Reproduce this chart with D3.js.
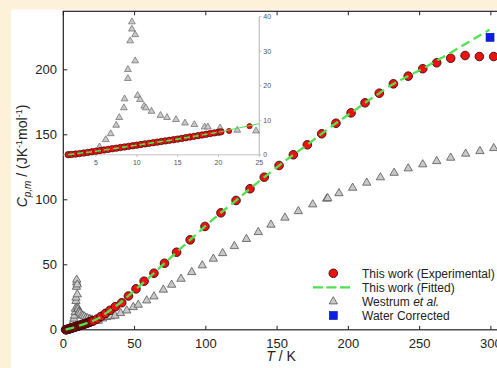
<!DOCTYPE html>
<html>
<head>
<meta charset="utf-8">
<script src="https://cdn.jsdelivr.net/npm/d3@7"></script>
<style>
body { margin: 0; background: #fdf1d9; }
svg { display: block; }
text { font-family: "Liberation Sans", Arial, sans-serif; }
</style>
</head>
<body>
<div id="chart"></div>
<script>
// experimental points (T / K, Cp,m / J K-1 mol-1)
const expT = [1.6, 2, 2.5, 3, 3.5, 4, 4.5, 5, 5.5, 6, 6.5, 7, 7.5, 8, 8.5, 9, 9.5, 10, 10.5, 11,
    11.5, 12, 12.5, 13, 13.5, 14, 14.5, 15, 15.5, 16, 16.5, 17, 17.5, 18, 18.5, 19, 19.5, 20, 20.3,
    21.3, 23.8, 26.5, 29.5, 32.8, 36.5, 41, 45.7, 51, 56.7, 63.6, 71, 79.5, 89, 99.4, 110.6, 121.2,
    131, 141, 151.4, 161.4, 171.2, 181.3, 191.3, 201.9, 211.7, 221.7, 231.6, 242, 252.2, 262,
    271.8, 281.9, 291.9, 302]
const expC = [0.05, 0.1, 0.22, 0.35, 0.52, 0.7, 0.88, 1.05, 1.22, 1.4, 1.57, 1.75, 1.92, 2.1, 2.27,
    2.45, 2.62, 2.8, 2.97, 3.15, 3.32, 3.5, 3.67, 3.85, 4.02, 4.2, 4.37, 4.55, 4.75, 4.95, 5.15, 5.35,
    5.55, 5.75, 5.95, 6.15, 6.35, 6.55, 6.65,
    6.9, 8.3, 10.3, 12.6, 15, 17.8, 20.8, 26, 31.5, 37.4, 43.5, 51.2, 59.7, 69.2, 79.5, 90, 99.5,
    108.5, 117.4, 126.4, 134.6, 142.3, 150.8, 158.9, 166.9, 174.6, 182, 189.2, 195.1, 200.8, 205.4,
    208.9, 211, 210.2, 210.2]

// fitted curve
const fitT = [1.6, 5, 10, 15, 20, 25, 30, 35, 40, 50, 60, 70, 80, 90, 100, 110, 120, 130, 140, 150,
    160, 170, 180, 190, 200, 210, 220, 230, 240, 250, 260, 270, 280, 290, 299]
const fitC = [0.05, 1.05, 2.8, 4.55, 6.55, 9, 12.8, 16.8, 20.8, 30.3, 40, 50.2, 60.2, 70.2, 80.1,
    89.5, 98.4, 107.6, 116.5, 125.2, 133.5, 141.4, 149.7, 157.9, 165.4, 173.3, 180.7, 188.1, 194,
    199.6, 205.8, 212, 218.5, 225, 230.8]

// Westrum et al.
const westT = [5.44, 6.2, 6.8, 7.48, 7.85, 8.42, 8.5, 8.91, 8.91, 9.19, 9.4, 9.4, 9.8, 9.8, 10.1,
    10.4, 10.9, 11.1, 11.8, 12.9, 13.7, 14.8, 15.9, 17.05, 18.3, 18.7, 20.2, 22.3, 24.6,
    27.5, 30.4, 33.3, 36.3, 40.2, 44.5, 49.1, 52.6, 58.5, 63.6, 70.2, 76, 82.6, 90.1, 97.5, 105.3,
    111.8, 120, 128.5, 136.8, 145.7, 155.5, 164.9, 175, 184.8, 185.5, 193.4, 203, 212.9, 222.5,
    232.1, 242, 252.2, 262, 271.8, 282.3, 292.3, 302]
const westC = [2.3, 4.4, 6.1, 8.55, 10.8, 13.6, 16.2, 22.1, 24.7, 33, 36.4, 38.5, 34.8, 27.2, 17.2,
    16, 14.1, 13.6, 12.6, 11.4, 10.8, 10.2, 9.2, 8.75, 8.06, 8.06, 7.8, 7.1, 6.9,
    8.6, 9.7, 10.3, 10.8, 12.8, 14.8, 17.4, 19.2, 22.5, 25.6, 30.8, 34.6, 39.2, 44.3, 49.5, 54.6,
    58.9, 64.3, 69.8, 75.1, 80.8, 86.2, 91.2, 96.4, 100.8, 101.2, 105, 109.2, 113.1, 117.2,
    120.7, 124.1, 127.2, 129.7, 132.3, 135.4, 137.4, 139.7]

// water corrected
const waterT = [299.4]
const waterC = [225]

const xTicks = [0, 50, 100, 150, 200, 250, 300]
const yTicks = [0, 50, 100, 150, 200]
const insetXTicks = [5, 10, 15, 20, 25]
const insetYTicks = [0, 10, 20, 30, 40]

const legendItems = ['This work (Experimental)', 'This work (Fitted)', 'Westrum', 'Water Corrected']

const W = 497, H = 368
const red = '#ee1111', green = '#4fe24f', grey = '#c9c9c9'

const svg = d3.select('#chart').append('svg').attr('width', W).attr('height', H)
svg.append('rect').attr('x', 11).attr('y', 9.5).attr('width', W).attr('height', H).attr('fill', '#fff')

const x = d3.scaleLinear().domain([0, 310]).range([63.3, 63.3 + 310 * 1.4253])
const y = d3.scaleLinear().domain([0, 245]).range([329.8, 11.3])

const pts = (T, C) => T.map((t, i) => [t, C[i]])
const tri = d3.symbol().type(d3.symbolTriangle)

// frame + ticks
const frame = svg.append('g')
frame.append('rect').attr('x', x(0)).attr('y', y(245)).attr('width', x(310) - x(0))
    .attr('height', y(0) - y(245)).attr('fill', 'none').attr('stroke', '#222').attr('stroke-width', 1.2)
xTicks.forEach(t => {
    frame.append('line').attr('x1', x(t)).attr('x2', x(t)).attr('y1', y(0)).attr('y2', y(0) - 4)
        .attr('stroke', '#222')
    frame.append('line').attr('x1', x(t)).attr('x2', x(t)).attr('y1', y(245)).attr('y2', y(245) + 4)
        .attr('stroke', '#222')
    frame.append('text').attr('x', x(t)).attr('y', 348).attr('text-anchor', 'middle')
        .attr('font-size', 13).attr('fill', '#222').text(t)
})
yTicks.forEach(v => {
    frame.append('line').attr('x1', x(0)).attr('x2', x(0) + 4).attr('y1', y(v)).attr('y2', y(v))
        .attr('stroke', '#222')
    frame.append('text').attr('x', 57).attr('y', y(v)).attr('dy', '0.35em').attr('text-anchor', 'end')
        .attr('font-size', 13).attr('fill', '#222').text(v)
})

// axis titles
const xt = svg.append('text').attr('x', 281).attr('y', 361).attr('text-anchor', 'middle')
    .attr('font-size', 14).attr('fill', '#222')
xt.append('tspan').attr('font-style', 'italic').text('T')
xt.append('tspan').text(' / K')

const yt = svg.append('text').attr('transform', 'translate(27,156) rotate(-90)')
    .attr('text-anchor', 'middle').attr('font-size', 14).attr('fill', '#222')
yt.append('tspan').attr('font-style', 'italic').text('C')
yt.append('tspan').attr('font-style', 'italic').attr('font-size', 10).attr('dy', 4).text('p,m')
yt.append('tspan').attr('dy', -4).text(' / (JK')
yt.append('tspan').attr('font-size', 9).attr('dy', -5).text('-1')
yt.append('tspan').attr('dy', 5).text('mol')
yt.append('tspan').attr('font-size', 9).attr('dy', -5).text('-1')
yt.append('tspan').attr('dy', 5).text(')')

// main plot marks
const main = svg.append('g')
main.selectAll('.west').data(pts(westT, westC)).enter().append('path')
    .attr('d', tri.size(30)())
    .attr('transform', d => `translate(${x(d[0])},${y(d[1])})`)
    .attr('fill', grey).attr('stroke', '#555').attr('stroke-width', 0.8)

main.selectAll('.exp').data(pts(expT, expC)).enter().append('circle')
    .attr('cx', d => x(d[0])).attr('cy', d => y(d[1])).attr('r', 4.3)
    .attr('fill', red).attr('stroke', '#3a0a0a').attr('stroke-width', 0.9)

const fitLine = d3.line().x(d => x(d[0])).y(d => y(d[1])).curve(d3.curveMonotoneX)
main.append('path').attr('d', fitLine(pts(fitT, fitC))).attr('fill', 'none')
    .attr('stroke', green).attr('stroke-width', 2.3).attr('stroke-dasharray', '9,5')

main.selectAll('.water').data(pts(waterT, waterC)).enter().append('rect')
    .attr('x', d => x(d[0]) - 4).attr('y', d => y(d[1]) - 4).attr('width', 8).attr('height', 8)
    .attr('fill', '#0a1ee6').attr('stroke', '#001090').attr('stroke-width', 0.6)

// inset
const ix = d3.scaleLinear().domain([1, 25]).range([63.3, 259.3])
const iy = d3.scaleLinear().domain([0, 40]).range([154.8, 16.7])
const inset = svg.append('g')
inset.append('line').attr('x1', ix(1)).attr('x2', ix(25)).attr('y1', iy(0)).attr('y2', iy(0))
    .attr('stroke', '#c4c4c4')
inset.append('line').attr('x1', ix(25)).attr('x2', ix(25)).attr('y1', iy(0)).attr('y2', iy(40))
    .attr('stroke', '#c4c4c4').attr('stroke-width', 1.3)
insetXTicks.forEach(t => {
    inset.append('line').attr('x1', ix(t)).attr('x2', ix(t)).attr('y1', iy(0)).attr('y2', iy(0) + 2)
        .attr('stroke', '#bbb')
    inset.append('text').attr('x', ix(t)).attr('y', 165).attr('text-anchor', 'middle')
        .attr('font-size', 7).attr('fill', '#555').text(t)
})
insetYTicks.forEach(v => {
    inset.append('line').attr('x1', ix(25)).attr('x2', ix(25) + 2).attr('y1', iy(v)).attr('y2', iy(v))
        .attr('stroke', '#bbb')
    inset.append('text').attr('x', ix(25) + 4).attr('y', iy(v)).attr('dy', '0.35em')
        .attr('font-size', 7).attr('fill', '#555').text(v)
})

const inWin = d => d[0] <= 25 && d[1] <= 40
inset.selectAll('.iwest').data(pts(westT, westC).filter(inWin)).enter().append('path')
    .attr('d', tri.size(20)())
    .attr('transform', d => `translate(${ix(d[0])},${iy(d[1])})`)
    .attr('fill', grey).attr('stroke', '#666').attr('stroke-width', 0.7)

const iExp = pts(expT, expC).filter(inWin)
inset.selectAll('.iexp').data(iExp).enter().append('circle')
    .attr('cx', d => ix(d[0])).attr('cy', d => iy(d[1])).attr('r', d => d[0] > 21 ? 2.6 : 3.2)
    .attr('fill', red).attr('stroke', d => d[0] > 21 ? '#a00' : '#4a0c0c').attr('stroke-width', 0.8)

const iFit = d3.line().x(d => ix(d[0])).y(d => iy(d[1])).curve(d3.curveMonotoneX)
inset.append('path').attr('d', iFit(pts(fitT, fitC).filter(d => d[0] <= 20.5))).attr('fill', 'none')
    .attr('stroke', green).attr('stroke-width', 1.6).attr('stroke-dasharray', '6,3')
inset.append('path').attr('d', iFit(pts(fitT, fitC).filter(d => d[0] >= 20 && d[0] <= 25)))
    .attr('fill', 'none').attr('stroke', green).attr('stroke-width', 1)

// legend
const legY = [273.3, 287.3, 301.5, 315.5]
const lg = svg.append('g')
const sx = 333.3
lg.append('circle').attr('cx', sx).attr('cy', legY[0]).attr('r', 4.3)
    .attr('fill', red).attr('stroke', '#3a0a0a').attr('stroke-width', 0.9)
lg.append('line').attr('x1', 313).attr('x2', 350).attr('y1', legY[1]).attr('y2', legY[1])
    .attr('stroke', green).attr('stroke-width', 2.3).attr('stroke-dasharray', '10,3.5')
lg.append('path').attr('d', tri.size(30)()).attr('transform', `translate(${sx},${legY[2]})`)
    .attr('fill', grey).attr('stroke', '#555').attr('stroke-width', 0.8)
lg.append('rect').attr('x', sx - 4).attr('y', legY[3] - 4).attr('width', 8).attr('height', 8)
    .attr('fill', '#0a1ee6').attr('stroke', '#001090').attr('stroke-width', 0.6)
legendItems.forEach((s, i) => {
    const t = lg.append('text').attr('x', 362).attr('y', legY[i]).attr('dy', '0.35em')
        .attr('font-size', 12).attr('fill', '#222')
    if (s === 'Westrum') {
        t.append('tspan').text('Westrum ')
        t.append('tspan').attr('font-style', 'italic').text('et al.')
    } else t.text(s)
})
</script>
</body>
</html>
